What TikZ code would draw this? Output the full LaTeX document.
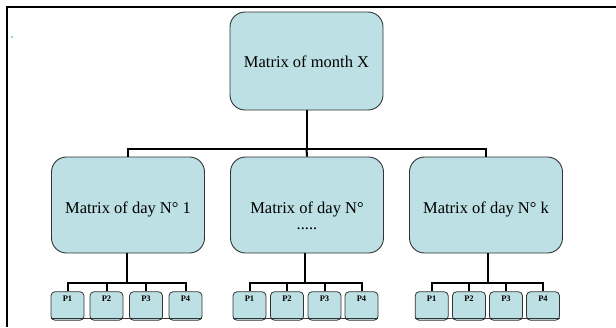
\documentclass[tikz,border=0pt]{standalone}
\usepackage{fontspec}
\setmainfont{Liberation Serif}
\definecolor{boxfill}{HTML}{BCE0E3}
\definecolor{boxline}{HTML}{333333}
\definecolor{dotcol}{HTML}{9FD6E6}
\begin{document}
\begin{tikzpicture}[x=1pt,y=-1pt,
  bigbox/.style={draw=boxline, line width=0.9pt, fill=boxfill, rounded corners=15pt,
    minimum width=153pt, minimum height=97pt, inner sep=0pt,
    font=\fontsize{16.5}{18}\selectfont, text depth=0pt},
  pbox/.style={draw=boxline, line width=0.8pt, fill=boxfill, rounded corners=4pt,
    minimum width=33pt, minimum height=28.5pt, inner xsep=0pt, inner ysep=3.25pt,
    font=\fontsize{8.5}{9}\selectfont\bfseries, text height=6pt, text depth=16pt},
  conn/.style={line width=2pt, black},
  frame/.style={line width=2pt, black},
  underl/.style={line width=1.1pt, boxline}
]
\useasboundingbox (0,0) rectangle (616,327);
% frame
\draw[frame] (616,7) -- (7,7) -- (7,327);
\fill[dotcol] (11,36) rectangle (13,38);

% top box
\node[bigbox, minimum height=98pt, text height=13.4pt] (top) at (306.5,61) {Matrix of month X};

% day boxes
\node[bigbox, minimum height=96pt, text height=17pt] (d1) at (128,205) {Matrix of day N° 1};
\node[bigbox, minimum height=96pt, text height=17pt] (d2) at (307,205) {Matrix of day N°};
\node[font=\fontsize{16.5}{18}\selectfont, anchor=base, inner sep=0pt] (d2dots) at (307,229.5) {.....};
\node[bigbox, minimum height=96pt, text height=17pt] (d3) at (486,205) {Matrix of day N° k};

% bus from top
\coordinate (bus) at (306.5,148.5);
\draw[conn] (top.south) -- (bus);
\draw[conn] (d1.north) |- (bus) -| (d3.north);
\draw[conn] (bus) -- (d2.north);

% P boxes group 1
\foreach \n/\x in {1/67.5,2/106.5,3/146,4/185.5}{
  \node[pbox] (pa\n) at (\x,306) {P\n};
}
% group 2
\foreach \n/\x in {1/249.5,2/287,3/324.5,4/361.5}{
  \node[pbox] (pb\n) at (\x,306) {P\n};
}
% group 3
\foreach \n/\x in {1/431.7,2/469,3/506,4/543}{
  \node[pbox] (pc\n) at (\x,306) {P\n};
}

% group connectors
\coordinate (ga) at (127,283.3);
\coordinate (gb) at (304.5,283.3);
\coordinate (gc) at (487.5,283.3);
\draw[conn] (d1.south -| ga) -- (ga);
\draw[conn] (d2.south -| gb) -- (gb);
\draw[conn] (d3.south -| gc) -- (gc);
\foreach \g in {a,b,c}{
  \draw[conn] (p\g1.north) |- (g\g) -| (p\g4.north);
  \draw[conn] (p\g2.north) -- (p\g2.north |- g\g);
  \draw[conn] (p\g3.north) -- (p\g3.north |- g\g);
  \draw[underl] ([yshift=2.6pt]p\g1.south west) -- ([yshift=2.6pt]p\g4.south east);
}
\end{tikzpicture}
\end{document}
